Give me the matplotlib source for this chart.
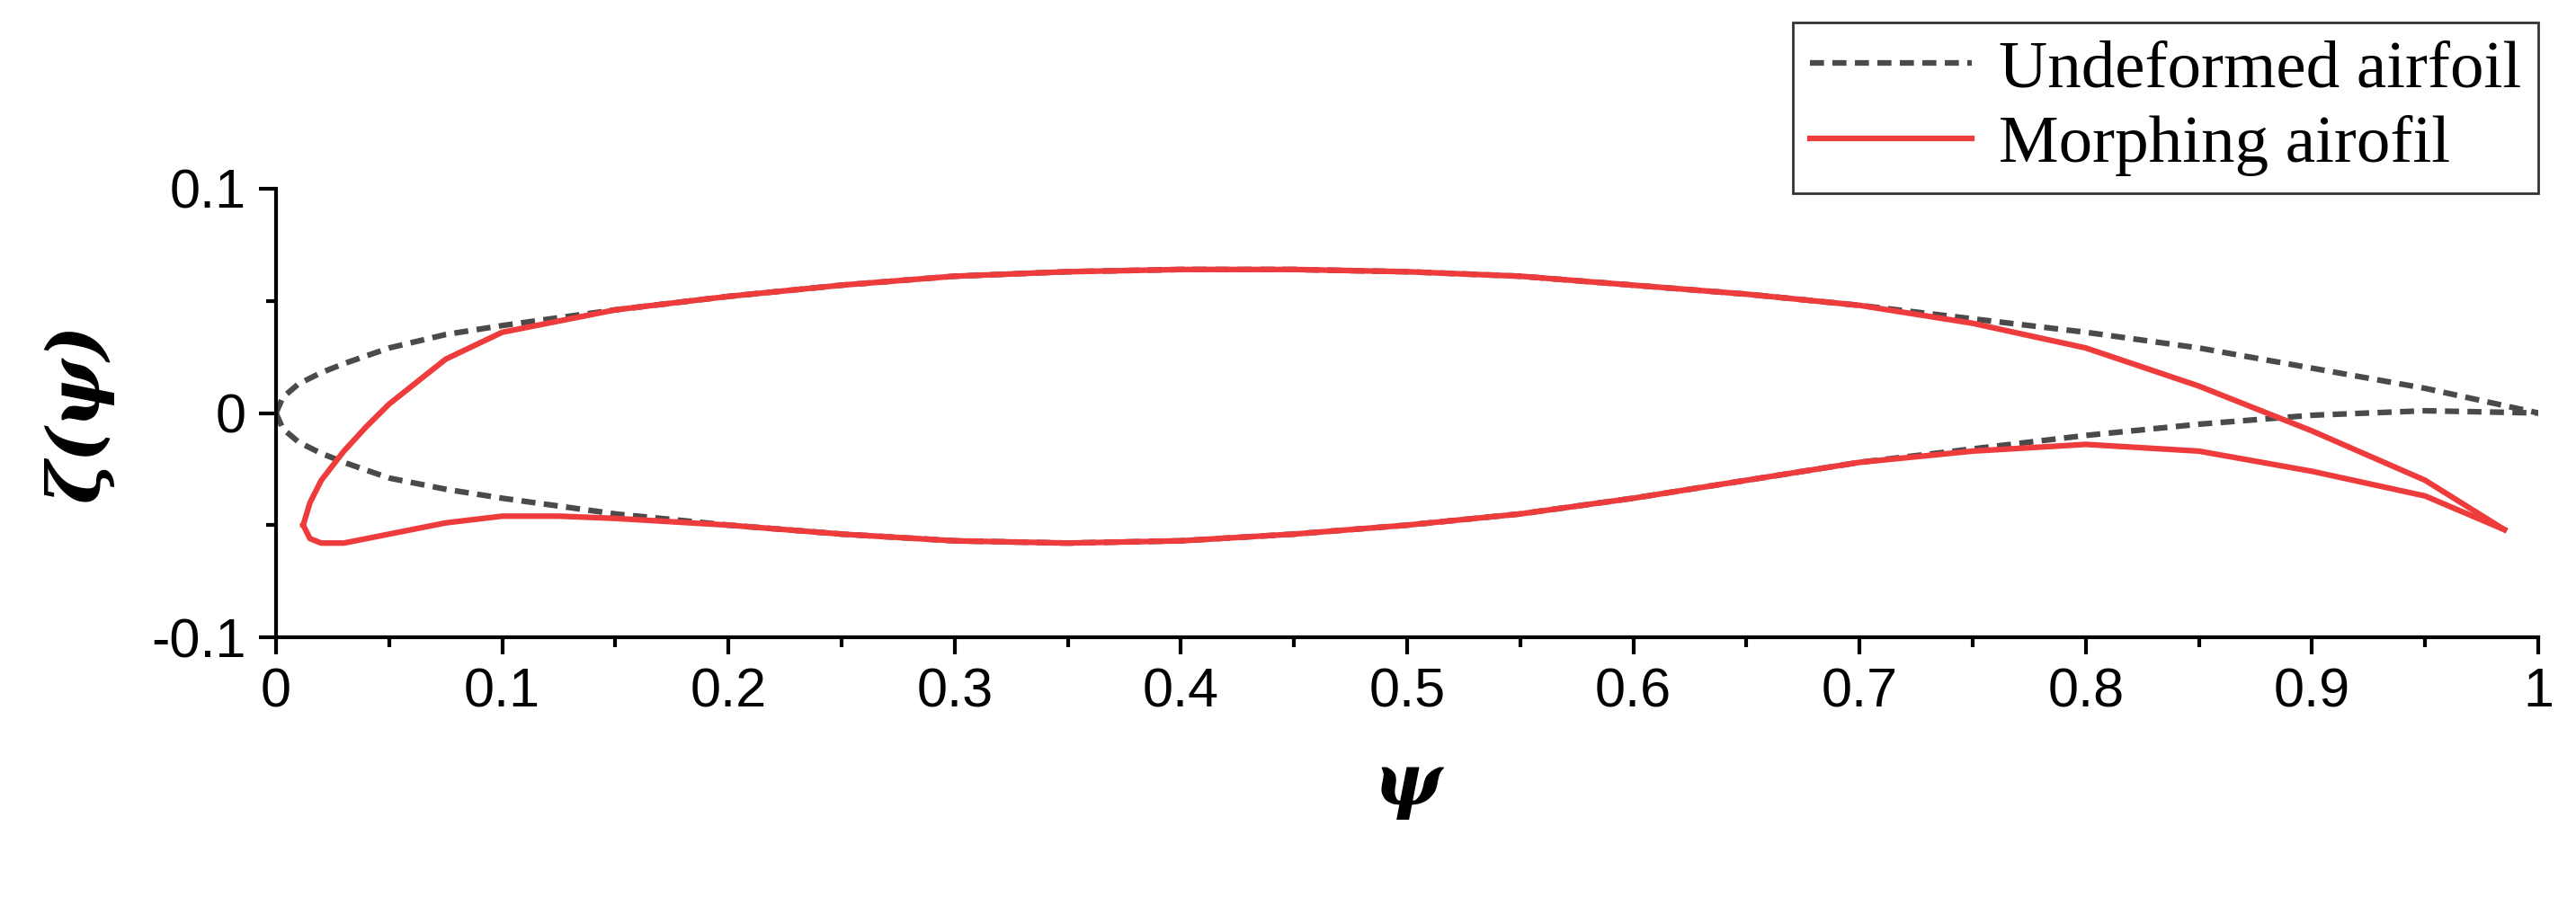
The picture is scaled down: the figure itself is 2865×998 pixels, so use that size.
import matplotlib
matplotlib.use("Agg")
import matplotlib.pyplot as plt
from matplotlib.ticker import MultipleLocator

und_upper_x = [0, 0.003, 0.01, 0.02, 0.03, 0.05, 0.075, 0.1, 0.15, 0.2, 0.25, 0.3, 0.35, 0.4, 0.45, 0.5, 0.55, 0.6, 0.65, 0.7, 0.75, 0.8, 0.85, 0.9, 0.95, 1.0]
und_upper_y = [0, 0.007, 0.013, 0.018, 0.022, 0.029, 0.035, 0.039, 0.046, 0.052, 0.057, 0.061, 0.063, 0.064, 0.064, 0.063, 0.061, 0.057, 0.053, 0.048, 0.042, 0.036, 0.029, 0.02, 0.011, 0.0]
und_lower_x = [0, 0.003, 0.01, 0.02, 0.03, 0.05, 0.075, 0.1, 0.15, 0.2, 0.25, 0.3, 0.35, 0.4, 0.45, 0.5, 0.55, 0.6, 0.65, 0.7, 0.75, 0.8, 0.85, 0.9, 0.95, 1.0]
und_lower_y = [0, -0.007, -0.013, -0.018, -0.022, -0.029, -0.034, -0.038, -0.045, -0.05, -0.054, -0.057, -0.058, -0.057, -0.054, -0.05, -0.045, -0.038, -0.03, -0.022, -0.016, -0.01, -0.005, -0.001, 0.001, 0.0]

mor_upper_x = [0.012, 0.015, 0.02, 0.03, 0.04, 0.05, 0.075, 0.1, 0.15, 0.2, 0.25, 0.3, 0.35, 0.4, 0.45, 0.5, 0.55, 0.6, 0.65, 0.7, 0.75, 0.8, 0.85, 0.88, 0.9, 0.95, 0.985]
mor_upper_y = [-0.05, -0.04, -0.03, -0.017, -0.006, 0.004, 0.024, 0.036, 0.046, 0.052, 0.057, 0.061, 0.063, 0.064, 0.064, 0.063, 0.061, 0.057, 0.053, 0.048, 0.04, 0.029, 0.012, 0.0, -0.008, -0.03, -0.052]
mor_lower_x = [0.012, 0.015, 0.02, 0.03, 0.05, 0.075, 0.1, 0.125, 0.15, 0.2, 0.25, 0.3, 0.35, 0.4, 0.45, 0.5, 0.55, 0.6, 0.65, 0.7, 0.75, 0.8, 0.85, 0.9, 0.95, 0.985]
mor_lower_y = [-0.05, -0.056, -0.058, -0.058, -0.054, -0.049, -0.046, -0.046, -0.047, -0.05, -0.054, -0.057, -0.058, -0.057, -0.054, -0.05, -0.045, -0.038, -0.03, -0.022, -0.017, -0.014, -0.017, -0.026, -0.037, -0.052]

fig = plt.figure(figsize=(28.65, 9.98), dpi=100)
ax = fig.add_axes([307/2865, 1-709/998, (2823-307)/2865, (709-210)/998])

ax.plot(und_upper_x, und_upper_y, ls=(0, (2.5, 1.5)), color="#4a4a4a", lw=4.5, label="Undeformed airfoil")
ax.plot(und_lower_x, und_lower_y, ls=(0, (2.5, 1.5)), color="#4a4a4a", lw=4.5)
ax.plot(mor_upper_x, mor_upper_y, color="#ee3b3b", lw=4.5, label="Morphing airofil")
ax.plot(mor_lower_x, mor_lower_y, color="#ee3b3b", lw=4.5)

ax.set_xlim(0, 1)
ax.set_ylim(-0.1, 0.1)
ax.xaxis.set_minor_locator(MultipleLocator(0.05))
ax.yaxis.set_minor_locator(MultipleLocator(0.05))
ax.set_xticks([i/10 for i in range(11)])
ax.set_xticklabels(["0", "0.1", "0.2", "0.3", "0.4", "0.5", "0.6", "0.7", "0.8", "0.9", "1"])
ax.set_yticks([-0.1, 0, 0.1])
ax.set_yticklabels(["-0.1", "0", "0.1"])
for s in ["top", "right"]:
    ax.spines[s].set_visible(False)
for s in ["left", "bottom"]:
    ax.spines[s].set_linewidth(3)
ax.tick_params(which="major", direction="out", length=14, width=3, labelsize=44, pad=10)
ax.tick_params(which="minor", direction="out", length=8, width=3)
for t in ax.get_xticklabels() + ax.get_yticklabels():
    t.set_fontfamily("Liberation Sans")

ax.set_xlabel("ψ", fontsize=58, family="DejaVu Serif", style="italic", fontweight="bold", labelpad=25)
ax.set_ylabel("ζ(ψ)", fontsize=58, family="DejaVu Serif", style="italic", fontweight="bold", labelpad=30)

leg = ax.legend(loc="upper right", bbox_to_anchor=(1.0, 1.37), prop={"family": "Liberation Serif", "size": 54},
                frameon=True, fancybox=False, edgecolor="black", handlelength=2.4, borderpad=0.25,
                labelspacing=0.2, handletextpad=0.4, borderaxespad=0)
leg.get_frame().set_linewidth(2)

fig.savefig("out.png", dpi=100)
